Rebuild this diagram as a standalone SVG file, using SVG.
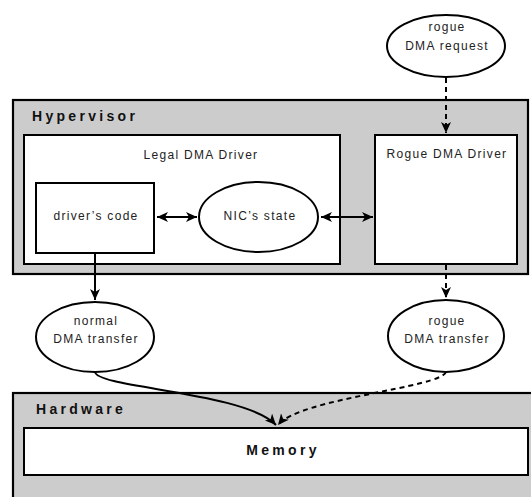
<svg xmlns="http://www.w3.org/2000/svg" width="531" height="497" viewBox="0 0 531 497">
<style>
.box{fill:#ffffff;stroke:#000;stroke-width:2}
.layer{fill:#cccccc;stroke:#000;stroke-width:2.2}
.t{font-family:"Liberation Sans",Arial,sans-serif;font-size:12px;letter-spacing:1.3px;fill:#222}
.b{font-family:"Liberation Sans",Arial,sans-serif;font-size:14px;font-weight:bold;letter-spacing:3.3px;fill:#111}
.c{text-anchor:middle}
.e{fill:none;stroke:#000;stroke-width:2}
.d{stroke-dasharray:5,4}
</style>
<defs>
<marker id="ah" markerUnits="userSpaceOnUse" markerWidth="13" markerHeight="11" refX="11" refY="5" orient="auto-start-reverse" viewBox="0 0 13 11">
<path d="M0,0 L11,5 L0,10 L3,5 z" fill="#000"/>
</marker>
</defs>
<g id="hypervisor">
<rect class="layer" x="13" y="100" width="515" height="174"/>
<text class="b" x="32" y="121">Hypervisor</text>
</g>
<g id="hardware">
<rect class="layer" x="13" y="393" width="530" height="120"/>
<text class="b" x="36" y="414">Hardware</text>
</g>
<g id="legal-driver">
<rect class="box" x="24" y="135" width="316" height="129"/>
<text class="t c" x="201" y="159">Legal DMA Driver</text>
</g>
<g id="rogue-driver">
<rect class="box" x="375" y="135" width="142" height="129"/>
<text class="t c" x="447" y="158">Rogue DMA Driver</text>
</g>
<g id="drivers-code">
<rect class="box" x="36" y="183" width="118" height="70"/>
<text class="t c" x="96" y="220">driver’s code</text>
</g>
<g id="nic-state">
<ellipse class="box" cx="258.5" cy="217" rx="59.5" ry="35"/>
<text class="t c" x="260" y="220">NIC’s state</text>
</g>
<g id="rogue-request">
<ellipse class="box" cx="446" cy="46" rx="59" ry="31"/>
<text class="t c" x="447" y="31">rogue</text>
<text class="t c" x="447" y="50">DMA request</text>
</g>
<g id="normal-transfer">
<ellipse class="box" cx="95" cy="337" rx="59" ry="35"/>
<text class="t c" x="96" y="325">normal</text>
<text class="t c" x="96" y="343">DMA transfer</text>
</g>
<g id="rogue-transfer">
<ellipse class="box" cx="446" cy="336" rx="58" ry="36"/>
<text class="t c" x="447" y="325">rogue</text>
<text class="t c" x="447" y="343">DMA transfer</text>
</g>
<g id="memory">
<rect class="box" x="24" y="428" width="504" height="47"/>
<text class="b c" x="283" y="455">Memory</text>
</g>
<g id="connectors">
<line class="e" x1="157" y1="217" x2="197" y2="217" marker-start="url(#ah)" marker-end="url(#ah)"/>
<line class="e" x1="321" y1="217" x2="373" y2="217" marker-start="url(#ah)" marker-end="url(#ah)"/>
<line class="e d" x1="446" y1="78" x2="446" y2="133" marker-end="url(#ah)"/>
<line class="e d" x1="446" y1="265" x2="446" y2="298" marker-end="url(#ah)"/>
<line class="e" x1="95" y1="254" x2="95" y2="300" marker-end="url(#ah)"/>
<path class="e" d="M95,372 C97,388 245,392 276,425" marker-end="url(#ah)"/>
<path class="e d" d="M446,372 C440,388 300,398 278,425" marker-end="url(#ah)"/>
</g>
</svg>
